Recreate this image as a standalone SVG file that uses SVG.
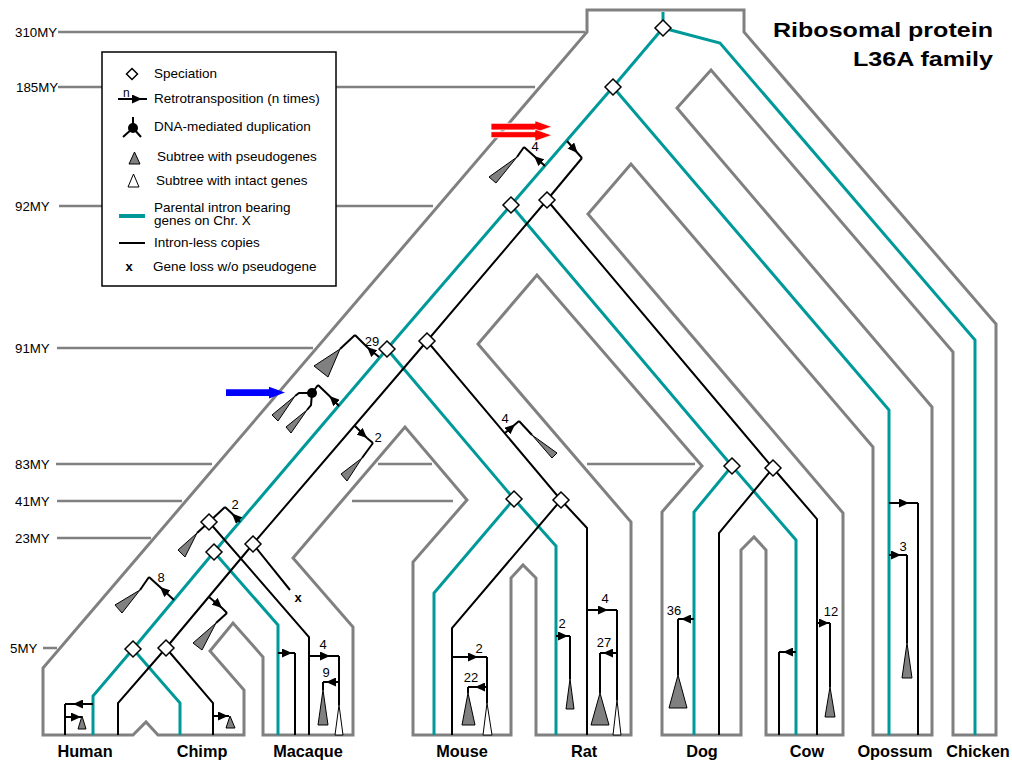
<svg xmlns="http://www.w3.org/2000/svg" width="1012" height="761" viewBox="0 0 1012 761">
  <defs>
    <style>
      .sp { fill: none; stroke: #808080; stroke-width: 3; stroke-linejoin: miter; }
      .tl { fill: none; stroke: #808080; stroke-width: 2.5; }
      .te { fill: none; stroke: #009999; stroke-width: 3; stroke-linejoin: miter; }
      .bk { fill: none; stroke: #000; stroke-width: 2; stroke-linejoin: miter; }
      .rt { fill: none; stroke: #000; stroke-width: 2; marker-mid: url(#ah); }
      .dm { fill: #fff; stroke: #000; stroke-width: 1.5; }
      .pg { fill: #808080; stroke: #000; stroke-width: 1; stroke-linejoin: miter; }
      .ig { fill: #fff; stroke: #000; stroke-width: 1; stroke-linejoin: miter; }
      text { font-family: "Liberation Sans", Arial, Helvetica, sans-serif; fill: #000; }
      .my { font-size: 13.3px; }
      .nm { font-size: 13px; text-anchor: middle; }
      .lg { font-size: 13.5px; }
      .sn { font-size: 16.3px; font-weight: bold; text-anchor: middle; }
      .ti { font-size: 21px; font-weight: bold; }
    </style>
    <marker id="ah" viewBox="0 0 10 9" refX="10" refY="4.5" markerWidth="10" markerHeight="9" markerUnits="userSpaceOnUse" orient="auto">
      <path d="M0,0 L10,4.5 L0,9 Z" fill="#000"/>
    </marker>
    <path id="dmd" d="M0,-8 L8,0 L0,8 L-8,0 Z"/>
  </defs>

  <rect width="1012" height="761" fill="#fff"/>

  <!-- time scale -->
  <g id="timescale">
    <path class="tl" d="M58,32 H585 M58,87 H535 M59,206 H433 M57,348 H313 M56,464 H212 M378,464 H432 M587,464 H695 M57,501 H182 M352,501 H453 M57,538 H151 M43,648 H57"/>
    <text class="my" x="15" y="37">310MY</text>
    <text class="my" x="16" y="92">185MY</text>
    <text class="my" x="15" y="211">92MY</text>
    <text class="my" x="15" y="353">91MY</text>
    <text class="my" x="15" y="469">83MY</text>
    <text class="my" x="15" y="506">41MY</text>
    <text class="my" x="15" y="543">23MY</text>
    <text class="my" x="10" y="653">5MY</text>
  </g>

  <!-- species tree tube -->
  <g id="species-tree">
    <path class="sp" d="M43,735 L43,668 L587,32 L587,10 L744,10 L744,32 L996,324 L996,735 L953,735 L953,352 L711,70 L677,108 L932,407 L932,735 L873,735 L873,447 L631,164 L588,214 L843,513 L843,735 L766,735 L766,550 L754,537 L741,550 L741,735 L662,735 L662,512 L702,466 L537,275 L478,344 L631,522 L631,735 L536,735 L536,578 L523,565 L511,578 L511,735 L413,735 L413,562 L467,500 L405,427 L293,558 L353,627 L353,735 L263,735 L263,657 L233,623 L210,651 L244,690 L244,735 L158,735 L146,722 L133,735 Z"/>
  </g>

  <!-- connectors: gene lineages -->
  <g id="connectors">
    <!-- parental intron-bearing genes (Chr. X) -->
    <path class="te" d="M663,12 V28 L720,43 L975,340 V735"/>
    <path class="te" d="M663,28 L613,87 L511,205 L387,349 L214,552 L133,649 L93,696 V735"/>
    <path class="te" d="M613,87 L889,410 V735"/>
    <path class="te" d="M511,205 L732,466 L694,512 V735 M732,466 L796,540 V735"/>
    <path class="te" d="M387,349 L514,499 L434,593 V735 M514,499 L556,546 V735"/>
    <path class="te" d="M214,552 L278,625 V735"/>
    <path class="te" d="M133,649 L180,703 V735"/>

    <!-- intron-less copies -->
    <path class="bk" d="M547,200 L773,468 L719,533 V735 M773,468 L817,519 V735"/>
    <path class="bk" d="M547,200 L427,341 L561,500 L452,628 V735 M561,500 L587,528 V735"/>
    <path class="bk" d="M427,341 L253,544 L166,648 L118,703 V735 M166,648 L213,703 V735 M253,544 L290,590"/>
    <path class="bk" d="M225,507 L209,522 L197,533 M209,522 L309,637 V735"/>

    <!-- retrotransposition events -->
    <path class="rt" d="M567,141 L577.5,153 L582,158"/>
    <path class="bk" d="M582,158 L547,200"/>
    <path class="rt" d="M545,166 L534,156 L524,147"/>
    <path class="bk" d="M524,147 L517,157"/>
    <path class="rt" d="M379,357 L367,347 L355,335"/>
    <path class="bk" d="M355,335 L340,349"/>
    <path class="rt" d="M339,406 L329.5,396 L318,385"/>
    <path class="bk" d="M318,385 L312,393 M312,393 H299 L295,396 M312,393 L311,405 L307,410"/>
    <path class="rt" d="M355,426 L367,438 L373,443"/>
    <path class="bk" d="M373,443 L362,458"/>
    <path class="rt" d="M240,522 L232,513.5 L225,507"/>
    <path class="rt" d="M174,600 L160,587 L149,577"/>
    <path class="bk" d="M149,577 L140,590"/>
    <path class="rt" d="M209,597 L222,608 L227,613"/>
    <path class="bk" d="M227,613 L216,623"/>
    <path class="rt" d="M505,433 L515,424.5 L519,421"/>
    <path class="bk" d="M519,421 L532,435"/>
    <path class="rt" d="M93,704 L73,704 L65,704"/>
    <path class="bk" d="M65,704 V735"/>
    <path class="rt" d="M65,717 L81,717 L82,717"/>
    <path class="rt" d="M213,716 L228,716 L229,716"/>
    <path class="rt" d="M278,653 L292,653 L295,653"/>
    <path class="bk" d="M295,653 V735"/>
    <path class="rt" d="M309,656 L330,656 L339,656"/>
    <path class="bk" d="M339,656 V705"/>
    <path class="rt" d="M339,682 L326,682 L323,682"/>
    <path class="bk" d="M323,682 V690"/>
    <path class="rt" d="M452,657 L478,657 L487,657"/>
    <path class="bk" d="M487,657 V703"/>
    <path class="rt" d="M487,687 L475,687 L468,687"/>
    <path class="bk" d="M468,687 V693"/>
    <path class="rt" d="M556,636 L568,636 L570,636"/>
    <path class="bk" d="M570,636 V679"/>
    <path class="rt" d="M587,610 L608,610 L617,610"/>
    <path class="bk" d="M617,610 V700"/>
    <path class="rt" d="M617,653 L603,653 L600,653"/>
    <path class="bk" d="M600,653 V693"/>
    <path class="rt" d="M694,619 L681,619 L678,619"/>
    <path class="bk" d="M678,619 V675"/>
    <path class="rt" d="M796,652 L783,652 L779,652"/>
    <path class="bk" d="M779,652 V735"/>
    <path class="rt" d="M817,623 L829,623 L830,623"/>
    <path class="bk" d="M830,623 V687"/>
    <path class="rt" d="M889,503 L909,503 L918,503"/>
    <path class="bk" d="M918,503 V735"/>
    <path class="rt" d="M889,555 L901,555 L907,555"/>
    <path class="bk" d="M907,555 V643"/>
  </g>

  <!-- DNA-mediated duplication point -->
  <g id="dna-duplication">
    <circle cx="312" cy="393" r="5" fill="#000"/>
  </g>

  <!-- speciation nodes -->
  <g id="speciation-parental">
    <use href="#dmd" class="dm" x="663" y="28"/>
    <use href="#dmd" class="dm" x="613" y="87"/>
    <use href="#dmd" class="dm" x="511" y="205"/>
    <use href="#dmd" class="dm" x="387" y="349"/>
    <use href="#dmd" class="dm" x="214" y="552"/>
    <use href="#dmd" class="dm" x="133" y="649"/>
    <use href="#dmd" class="dm" x="732" y="466"/>
    <use href="#dmd" class="dm" x="514" y="499"/>
  </g>
  <g id="speciation-copies">
    <use href="#dmd" class="dm" x="547" y="200"/>
    <use href="#dmd" class="dm" x="773" y="468"/>
    <use href="#dmd" class="dm" x="427" y="341"/>
    <use href="#dmd" class="dm" x="561" y="500"/>
    <use href="#dmd" class="dm" x="253" y="544"/>
    <use href="#dmd" class="dm" x="166" y="648"/>
    <use href="#dmd" class="dm" x="209" y="522"/>
  </g>

  <!-- collapsed subtrees -->
  <g id="pseudogene-subtrees">
    <polygon class="pg" points="517,157 489,177 496,183"/>
    <polygon class="pg" points="340,349 314,366 328,377"/>
    <polygon class="pg" points="295,396 272,415 278,421"/>
    <polygon class="pg" points="307,410 286,427 291,433"/>
    <polygon class="pg" points="362,458 341,474 347,481"/>
    <polygon class="pg" points="197,533 178,550 185,557"/>
    <polygon class="pg" points="140,590 115,605 122,613"/>
    <polygon class="pg" points="216,623 193,643 202,650"/>
    <polygon class="pg" points="532,435 557,453 552,458"/>
    <polygon class="pg" points="82,716 78,729 86,729"/>
    <polygon class="pg" points="230,716 226,728 235,728"/>
    <polygon class="pg" points="323,690 318,725 328,725"/>
    <polygon class="pg" points="468,693 462,725 475,725"/>
    <polygon class="pg" points="570,679 566,709 574,709"/>
    <polygon class="pg" points="600,693 591,725 609,725"/>
    <polygon class="pg" points="678,675 669,708 687,708"/>
    <polygon class="pg" points="830,687 825,717 835,717"/>
    <polygon class="pg" points="907,643 902,678 912,678"/>
  </g>
  <g id="intact-subtrees">
    <polygon class="ig" points="339,705 335,735 343,735"/>
    <polygon class="ig" points="487,703 483,735 492,735"/>
    <polygon class="ig" points="617,700 613,735 621,735"/>
  </g>

  <!-- event counts -->
  <g id="event-counts">
    <text class="nm" x="535" y="151">4</text>
    <text class="nm" x="372" y="346">29</text>
    <text class="nm" x="378" y="442">2</text>
    <text class="nm" x="235" y="509">2</text>
    <text class="nm" x="161" y="582">8</text>
    <text class="nm" x="505" y="423">4</text>
    <text class="nm" x="323" y="649">4</text>
    <text class="nm" x="326" y="677">9</text>
    <text class="nm" x="479" y="653">2</text>
    <text class="nm" x="471" y="682">22</text>
    <text class="nm" x="562" y="628">2</text>
    <text class="nm" x="605" y="603">4</text>
    <text class="nm" x="604" y="647">27</text>
    <text class="nm" x="674" y="615">36</text>
    <text class="nm" x="831" y="616">12</text>
    <text class="nm" x="903" y="551">3</text>
    <text x="298" y="602" font-size="13" font-weight="bold" text-anchor="middle">x</text>
  </g>

  <!-- highlight arrows -->
  <g id="highlight-red">
    <path d="M491,123.3 H535 V120.7 L552,126.7 L535,132.7 V130 H491 Z" fill="#ff0000" stroke="#fff" stroke-width="0.8"/>
    <path d="M491,131.7 H535 V129.2 L552,135.2 L535,141.2 V137.7 H491 Z" fill="#ff0000" stroke="#fff" stroke-width="0.8"/>
  </g>
  <g id="highlight-blue">
    <path d="M226,389.3 H269 V386.7 L285,392.6 L269,398.4 V396 H226 Z" fill="#0000ff"/>
  </g>

  <!-- species names -->
  <g id="species-labels">
    <text class="sn" x="85" y="757">Human</text>
    <text class="sn" x="202" y="757">Chimp</text>
    <text class="sn" x="308" y="757">Macaque</text>
    <text class="sn" x="462" y="757">Mouse</text>
    <text class="sn" x="584" y="757">Rat</text>
    <text class="sn" x="702" y="757">Dog</text>
    <text class="sn" x="807" y="757">Cow</text>
    <text class="sn" x="895" y="757">Opossum</text>
    <text class="sn" x="978" y="757">Chicken</text>
  </g>

  <!-- title -->
  <g id="title">
    <text class="ti" x="773" y="37" textLength="220" lengthAdjust="spacingAndGlyphs">Ribosomal protein</text>
    <text class="ti" x="853" y="66" textLength="140" lengthAdjust="spacingAndGlyphs">L36A family</text>
  </g>

  <!-- legend -->
  <g id="legend">
    <rect x="102" y="52" width="234" height="234" fill="#fff" stroke="#000" stroke-width="1.5"/>
    <path d="M132,68.5 L137.5,74 L132,79.5 L126.5,74 Z" class="dm"/>
    <text class="lg" x="154" y="78">Speciation</text>
    <text x="123" y="97" font-size="12">n</text>
    <path class="rt" d="M118,99 L142,99 L147,99"/>
    <text class="lg" x="154" y="103">Retrotransposition (n times)</text>
    <path class="bk" d="M133,117 V128 M133,128 L123,137 M133,128 L141,137"/>
    <circle cx="133" cy="128" r="5" fill="#000"/>
    <text class="lg" x="154" y="131">DNA-mediated duplication</text>
    <polygon class="pg" points="134.5,152 129,164 140,164"/>
    <text class="lg" x="157" y="161">Subtree with pseudogenes</text>
    <polygon class="ig" points="133.5,174 128,187 139,187"/>
    <text class="lg" x="156" y="185">Subtree with intact genes</text>
    <path d="M119,216 H145" stroke="#009999" stroke-width="4"/>
    <text class="lg" x="154" y="212">Parental intron bearing</text>
    <text class="lg" x="154" y="225">genes on Chr. X</text>
    <path d="M119,243 H145" stroke="#000" stroke-width="2"/>
    <text class="lg" x="154" y="247">Intron-less copies</text>
    <text x="129" y="271" font-size="13" font-weight="bold" text-anchor="middle">x</text>
    <text class="lg" x="153" y="271">Gene loss w/o pseudogene</text>
  </g>
</svg>
